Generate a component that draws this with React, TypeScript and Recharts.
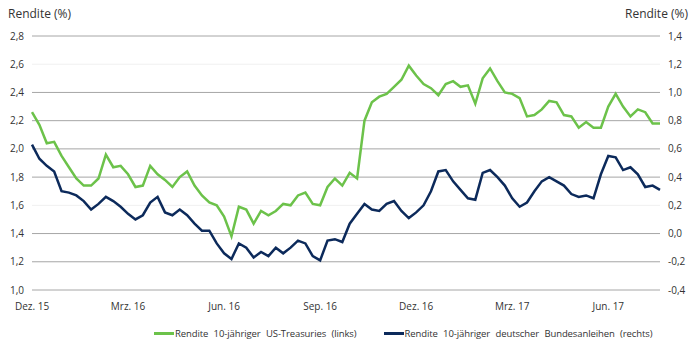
import { LineChart, Line, XAxis, YAxis, ReferenceLine } from 'recharts';

// weekly yields, Dez. 15 – Jul. 17
const usYield = [
  2.26, 2.17, 2.04, 2.05, 1.95, 1.87, 1.79, 1.74, 1.74, 1.79,
  1.96, 1.87, 1.88, 1.82, 1.73, 1.74, 1.88, 1.82, 1.78, 1.73,
  1.80, 1.84, 1.74, 1.67, 1.62, 1.60, 1.52, 1.38, 1.59, 1.57,
  1.47, 1.56, 1.53, 1.56, 1.61, 1.60, 1.67, 1.69, 1.61, 1.60,
  1.73, 1.79, 1.74, 1.83, 1.79, 2.20, 2.33, 2.37, 2.39, 2.44,
  2.49, 2.59, 2.52, 2.46, 2.43, 2.38, 2.46, 2.48, 2.44, 2.45,
  2.32, 2.50, 2.57, 2.48, 2.40, 2.39, 2.36, 2.23, 2.24, 2.28,
  2.34, 2.33, 2.24, 2.23, 2.15, 2.19, 2.15, 2.15, 2.30, 2.39,
  2.30, 2.23, 2.28, 2.26, 2.18, 2.18,
];

const deYield = [
  0.63, 0.53, 0.48, 0.44, 0.30, 0.29, 0.27, 0.23, 0.17, 0.21,
  0.26, 0.23, 0.19, 0.14, 0.10, 0.13, 0.22, 0.26, 0.15, 0.13,
  0.17, 0.13, 0.07, 0.02, 0.02, -0.07, -0.14, -0.18, -0.07, -0.10,
  -0.17, -0.13, -0.16, -0.10, -0.14, -0.10, -0.05, -0.07, -0.16, -0.19,
  -0.05, -0.04, -0.06, 0.07, 0.14, 0.21, 0.17, 0.16, 0.21, 0.23,
  0.16, 0.11, 0.15, 0.20, 0.30, 0.44, 0.45, 0.37, 0.31, 0.25,
  0.24, 0.43, 0.45, 0.40, 0.34, 0.25, 0.19, 0.22, 0.30, 0.37,
  0.40, 0.37, 0.34, 0.28, 0.26, 0.27, 0.25, 0.42, 0.55, 0.54,
  0.45, 0.47, 0.42, 0.33, 0.34, 0.31,
];

const xTicks = [0, 13, 26, 39, 52, 65, 78];
const xLabels = ['Dez. 15', 'Mrz. 16', 'Jun. 16', 'Sep. 16', 'Dez. 16', 'Mrz. 17', 'Jun. 17'];

const leftTicks = [1.0, 1.2, 1.4, 1.6, 1.8, 2.0, 2.2, 2.4, 2.6, 2.8];
const rightTicks = [-0.4, -0.2, 0.0, 0.2, 0.4, 0.6, 0.8, 1.0, 1.2, 1.4];
const faintGrid = [1.6, 2.6];

const GREEN = '#6cc24a';
const NAVY = '#0c2a5b';
const FONT = '"Open Sans", "DejaVu Sans", sans-serif';

const data = usYield.map((us, i) => ({ i, us, de: deYield[i] }));

const fmt = (v: number) => v.toFixed(1).replace('.', ',');

const tickStyle = { fontSize: 10, fill: '#333', fontFamily: FONT };

export default function App() {
  return (
    <div style={{ position: 'absolute', top: 0, left: 0, width: 700, height: 352, background: '#fff', fontFamily: FONT }}>
      <div style={{ position: 'absolute', left: 8, top: 5, fontSize: 12, color: '#333' }}>Rendite (%)</div>
      <div style={{ position: 'absolute', right: 12, top: 5, fontSize: 12, color: '#333' }}>Rendite (%)</div>
      <LineChart width={700} height={352} data={data} margin={{ top: 36, right: 0, bottom: 32, left: 0 }}>
        <XAxis
          dataKey="i"
          type="number"
          domain={[0, 85]}
          ticks={xTicks}
          tickFormatter={(v) => xLabels[xTicks.indexOf(v)] ?? ''}
          tick={tickStyle}
          axisLine={false}
          tickLine={false}
          tickMargin={7}
          height={30}
        />
        <YAxis
          yAxisId="left"
          domain={[1.0, 2.8]}
          ticks={leftTicks}
          tickFormatter={fmt}
          tick={tickStyle}
          axisLine={false}
          tickLine={false}
          width={32}
          interval={0}
        />
        <YAxis
          yAxisId="right"
          orientation="right"
          domain={[-0.4, 1.4]}
          ticks={rightTicks}
          tickFormatter={fmt}
          tick={tickStyle}
          axisLine={false}
          tickLine={false}
          width={40}
          interval={0}
        />
        {leftTicks.map((t) => (
          <ReferenceLine
            key={t}
            yAxisId="left"
            y={t}
            stroke={faintGrid.includes(t) ? '#f0f0f0' : '#a6a6a6'}
            strokeWidth={1}
          />
        ))}
        <Line
          yAxisId="left"
          dataKey="us"
          stroke={GREEN}
          strokeWidth={2.5}
          dot={false}
          type="linear"
          isAnimationActive={false}
        />
        <Line
          yAxisId="right"
          dataKey="de"
          stroke={NAVY}
          strokeWidth={2.5}
          dot={false}
          type="linear"
          isAnimationActive={false}
        />
      </LineChart>
      <div style={{ position: 'absolute', top: 327, left: 154, display: 'flex', alignItems: 'center', fontSize: 9.5, color: '#333', wordSpacing: 3, letterSpacing: -0.1, whiteSpace: 'nowrap' }}>
        <span style={{ display: 'inline-block', width: 20, height: 3, background: GREEN, marginRight: 1 }} />
        <span>Rendite 10-jähriger US-Treasuries (links)</span>
        <span style={{ display: 'inline-block', width: 20, height: 3, background: NAVY, marginLeft: 27, marginRight: 1 }} />
        <span>Rendite 10-jähriger deutscher Bundesanleihen (rechts)</span>
      </div>
    </div>
  );
}
